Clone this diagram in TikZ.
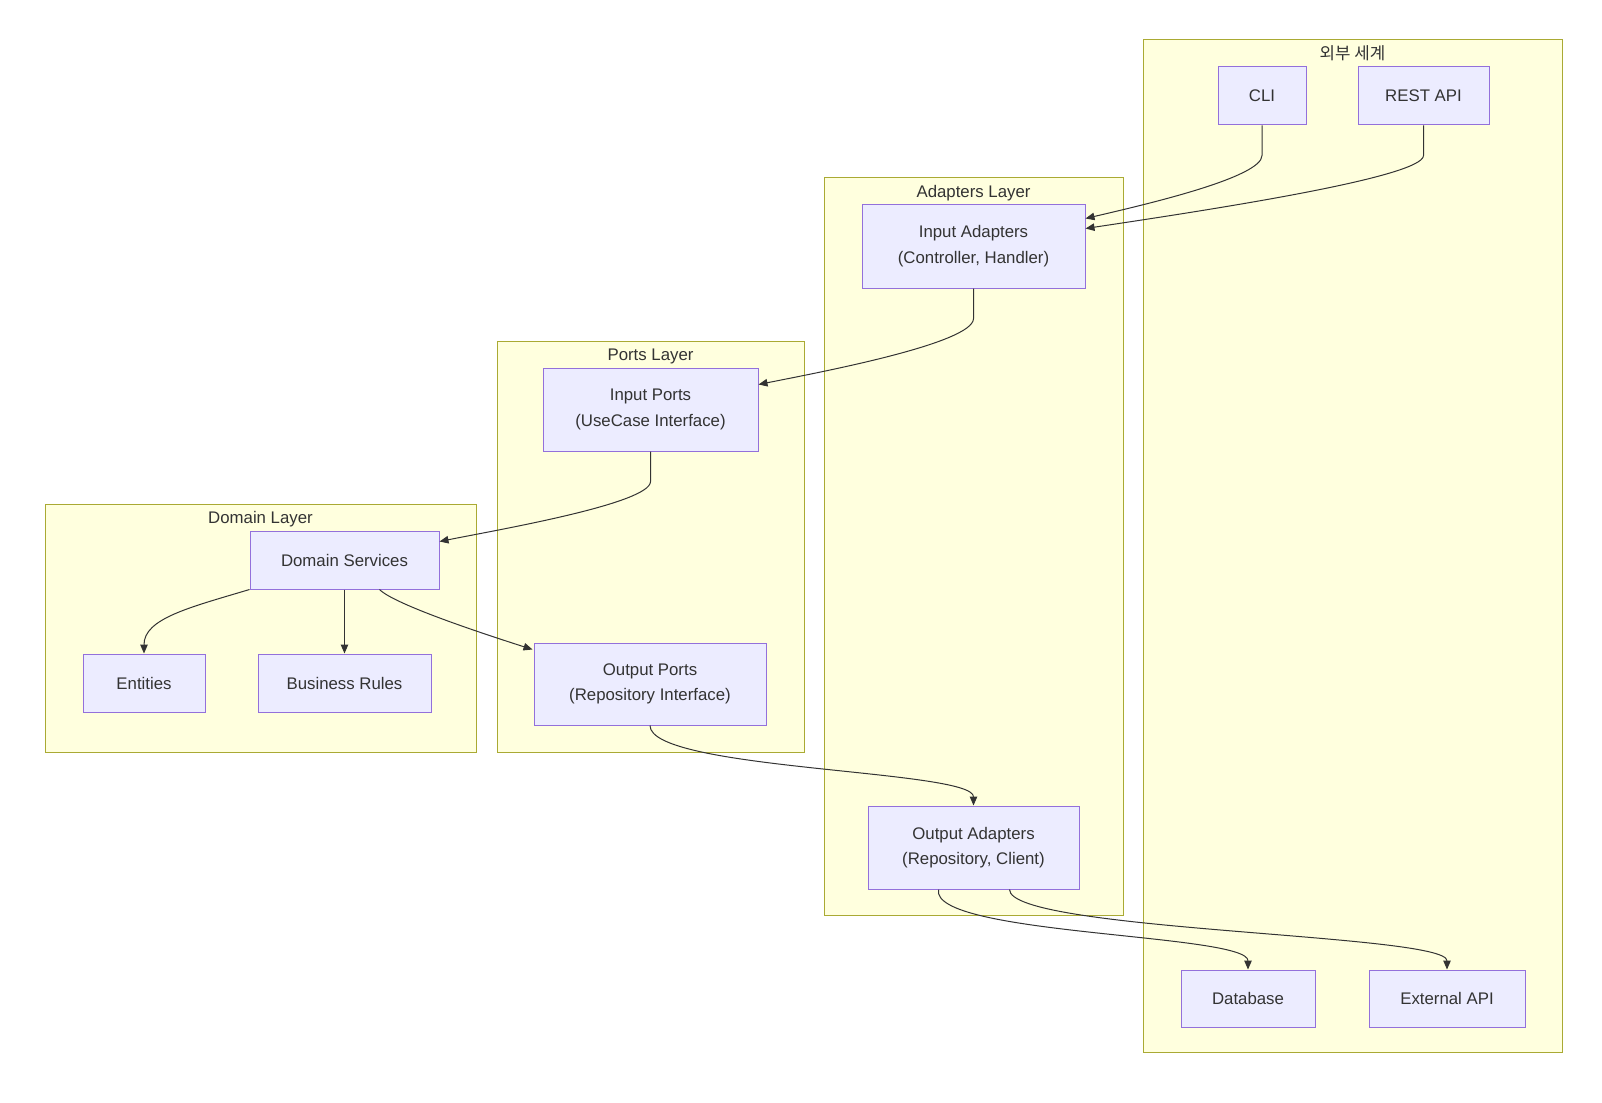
\documentclass[tikz,border=0pt]{standalone}
\usepackage{fontspec}
\setmainfont{Liberation Sans}
\newfontfamily\krfont{Noto Sans CJK KR}
\usetikzlibrary{arrows.meta,positioning,calc}
\definecolor{grpfill}{RGB}{255,255,222}
\definecolor{grpline}{RGB}{170,170,51}
\definecolor{boxfill}{RGB}{236,236,255}
\definecolor{boxline}{RGB}{147,112,219}
\definecolor{ink}{RGB}{51,51,51}

\begin{document}
\begin{tikzpicture}[
  x=1pt,
  y=-1pt,
  grp/.style={
    draw=grpline,
    fill=grpfill,
    line width=1pt
  },
  ttl/.style={
    text=ink,
    font=\fontsize{16.8}{20}\selectfont
  },
  box/.style={
    draw=boxline,
    fill=boxfill,
    line width=1pt,
    text=ink,
    align=center,
    inner sep=0pt,
    font=\fontsize{16.8}{25.5}\selectfont
  },
  edge/.style={
    draw=ink,
    line width=1pt,
    -{Triangle[length=9pt,width=7.5pt]}
  }
]
\useasboundingbox (0,0) rectangle (1602,1102);

% layers
\draw[grp] (1143,40) rectangle (1562,1052);
\draw[grp] (824,178) rectangle (1123,915);
\draw[grp] (497,341) rectangle (804,752);
\draw[grp] (45,504) rectangle (476,752);
\node[ttl] (world) at (1352.5,53) {\krfont 외부 세계};
\node[ttl] (adapt) at (973.5,193) {Adapters Layer};
\node[ttl] (ports) at (650.5,356) {Ports Layer};
\node[ttl] (domain) at (260.5,519) {Domain Layer};

% nodes
\node[box,minimum width=88pt,minimum height=58pt] (cli) at (1262,96) {CLI};
\node[box,minimum width=131pt,minimum height=58pt] (rest) at (1423.5,96) {REST API};
\node[box,minimum width=223pt,minimum height=84pt] (inad) at (973.5,246) {Input Adapters\\(Controller, Handler)};
\node[box,minimum width=215pt,minimum height=83pt] (inport) at (650.5,409.5) {Input Ports\\(UseCase Interface)};
\node[box,minimum width=189pt,minimum height=58pt] (domsvc) at (344.5,560) {Domain Services};
\node[box,minimum width=122pt,minimum height=58pt] (ent) at (144,683) {Entities};
\node[box,minimum width=173pt,minimum height=58pt] (rules) at (344.5,683) {Business Rules};
\node[box,minimum width=232pt,minimum height=82pt] (outport) at (650,684) {Output Ports\\(Repository Interface)};
\node[box,minimum width=211pt,minimum height=83pt] (outad) at (973.5,847.5) {Output Adapters\\(Repository, Client)};
\node[box,minimum width=134pt,minimum height=57pt] (db) at (1248,998.5) {Database};
\node[box,minimum width=156pt,minimum height=57pt] (extapi) at (1447,998.5) {External API};

% connectors
\draw[edge] (cli.south) -- ++(0,30) .. controls +(0,22) and +(60,-14) .. ($(inad.north east)+(0,15)$);
\draw[edge] (rest.south) -- ++(0,30) .. controls +(0,22) and +(120,-18) .. ($(inad.north east)+(0,25)$);
\draw[edge] (inad.south) -- ++(0,30) .. controls +(0,25) and +(60,-12) .. ($(inport.north east)+(0,17)$);
\draw[edge] (inport.south) -- ++(0,30) .. controls +(0,22) and +(60,-12) .. ($(domsvc.north east)+(0,11)$);
\draw[edge] (domsvc.south west) .. controls +(-60,18) and +(0,-35) .. (ent.north);
\draw[edge] (domsvc.south) -- (rules.north);
\draw[edge] ($(domsvc.south)+(35,0)$) .. controls +(15,15) and +(-50,-16) .. ($(outport.north west)+(-1,7)$);
\draw[edge] (outport.south) .. controls +(0,45) and +(0,-36) .. (outad.north);
\draw[edge] ($(outad.south)+(-35,0)$) .. controls +(-9,46) and +(0,-36) .. (db.north);
\draw[edge] ($(outad.south)+(36,0)$) .. controls +(0,42) and +(0,-36) .. (extapi.north);
\end{tikzpicture}
\end{document}
